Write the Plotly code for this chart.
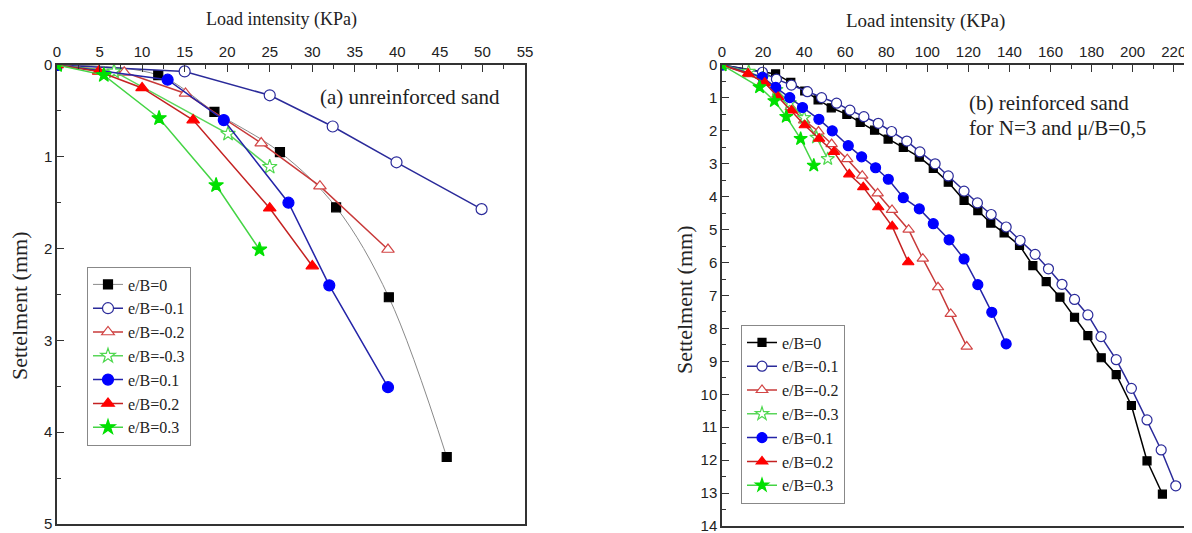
import plotly.graph_objects as go

# ---------------- data: (a) unreinforced sand ----------------
a_x_e0 = [0, 11.9, 18.5, 26.2, 32.8, 39.0, 45.8]
a_y_e0 = [0, 0.11, 0.51, 0.95, 1.55, 2.53, 4.27]
a_x_m01 = [0, 15.0, 25.0, 32.4, 39.9, 49.9]
a_y_m01 = [0, 0.07, 0.33, 0.67, 1.06, 1.57]
a_x_m02 = [0, 7.9, 15.1, 24.0, 30.9, 38.9]
a_y_m02 = [0, 0.08, 0.31, 0.85, 1.32, 2.01]
a_x_m03 = [0, 6.7, 20.1, 25.0]
a_y_m03 = [0, 0.07, 0.75, 1.11]
a_x_p01 = [0, 13.0, 19.6, 27.2, 32.0, 38.9]
a_y_p01 = [0, 0.16, 0.60, 1.50, 2.40, 3.51]
a_x_p02 = [0, 4.9, 10.0, 16.0, 25.0, 30.0]
a_y_p02 = [0, 0.07, 0.25, 0.60, 1.56, 2.19]
a_x_p03 = [0, 5.5, 12.0, 18.7, 23.8]
a_y_p03 = [0, 0.11, 0.58, 1.31, 2.01]

# ---------------- data: (b) reinforced sand ----------------
b_x_e0 = [0, 26.1, 33.5, 40.3, 46.8, 53.2, 60.8, 67.3, 74.3, 80.9, 88.3, 96.1, 102.9, 110.2,
          117.9, 124.6, 130.9, 137.4, 144.9, 151.4, 157.9, 164.6, 171.7, 178.2, 184.7, 192.0,
          199.4, 207.0, 214.5]
b_y_e0 = [0, 0.27, 0.53, 0.79, 1.06, 1.30, 1.50, 1.74, 1.98, 2.25, 2.50, 2.80, 3.14, 3.56,
          4.11, 4.42, 4.80, 5.10, 5.48, 6.09, 6.58, 7.05, 7.66, 8.22, 8.89, 9.40,
          10.34, 12.02, 13.03]
b_x_m01 = [0, 19.7, 26.5, 33.8, 41.6, 48.5, 55.8, 62.3, 69.1, 76.1, 82.6, 90.0, 96.4, 103.8,
           110.2, 117.9, 124.4, 131.1, 138.4, 145.2, 152.5, 159.0, 165.6, 171.7, 178.2, 184.6,
           192.0, 199.4, 207.0, 213.9, 221.0]
b_y_m01 = [0, 0.22, 0.43, 0.61, 0.81, 0.99, 1.16, 1.37, 1.57, 1.77, 2.02, 2.31, 2.64, 3.00,
           3.37, 3.83, 4.19, 4.54, 4.92, 5.33, 5.75, 6.19, 6.66, 7.12, 7.59, 8.25,
           8.95, 9.82, 10.78, 11.69, 12.78]
b_x_m02 = [0, 13.0, 20.0, 27.0, 33.5, 40.0, 47.0, 53.4, 61.0, 68.3, 75.8, 82.8, 90.9, 97.8,
           105.2, 111.4, 119.2]
b_y_m02 = [0, 0.28, 0.50, 0.90, 1.28, 1.68, 2.02, 2.40, 2.86, 3.36, 3.90, 4.40, 5.00, 5.88,
           6.75, 7.56, 8.55]
b_x_m03 = [0, 13.0, 19.7, 26.5, 33.0, 40.0, 46.0, 51.5]
b_y_m03 = [0, 0.20, 0.40, 0.75, 1.15, 1.60, 2.20, 2.85]
b_x_p01 = [0, 19.7, 26.2, 33.0, 39.2, 47.2, 53.7, 61.5, 68.0, 74.8, 81.0, 88.3, 96.1, 102.9,
           110.6, 117.9, 124.6, 131.4, 138.4]
b_y_p01 = [0, 0.37, 0.68, 0.99, 1.29, 1.65, 2.00, 2.45, 2.79, 3.12, 3.47, 4.03, 4.37, 4.82,
           5.31, 5.89, 6.67, 7.51, 8.47]
b_x_p02 = [0, 12.7, 20.8, 27.3, 33.9, 40.3, 47.3, 54.5, 62.0, 68.8, 76.1, 82.9, 90.7]
b_y_p02 = [0, 0.26, 0.54, 0.97, 1.38, 1.83, 2.24, 2.64, 3.32, 3.71, 4.32, 4.90, 5.99]
b_x_p03 = [0, 18.3, 25.5, 31.3, 38.3, 44.7]
b_y_p03 = [0, 0.67, 1.09, 1.57, 2.24, 3.05]

names = ["e/B=0", "e/B=-0.1", "e/B=-0.2", "e/B=-0.3", "e/B=0.1", "e/B=0.2", "e/B=0.3"]

SERIF = "Liberation Serif, Times New Roman, serif"
SANS = "Liberation Sans, Arial, sans-serif"

# style per series: (line color, line width, symbol, marker fill, marker outline)
styles = [
    ("#000000", 1.5, "square", "#000000", "#000000"),
    ("#2a2a9a", 1.5, "circle", "#ffffff", "#2a2a9a"),
    ("#c83a3a", 1.5, "triangle-up", "#ffffff", "#d24545"),
    ("#5ad65a", 1.5, "star", "#ffffff", "#4fd84f"),
    ("#2424a8", 1.5, "circle", "#0000ff", "#0000ff"),
    ("#c42222", 1.5, "triangle-up", "#ff0000", "#ff0000"),
    ("#44d444", 1.5, "star", "#00e000", "#00e000"),
]

a_data = [(a_x_e0, a_y_e0), (a_x_m01, a_y_m01), (a_x_m02, a_y_m02), (a_x_m03, a_y_m03),
          (a_x_p01, a_y_p01), (a_x_p02, a_y_p02), (a_x_p03, a_y_p03)]
b_data = [(b_x_e0, b_y_e0), (b_x_m01, b_y_m01), (b_x_m02, b_y_m02), (b_x_m03, b_y_m03),
          (b_x_p01, b_y_p01), (b_x_p02, b_y_p02), (b_x_p03, b_y_p03)]

fig = go.Figure()

for i, (xs, ys) in enumerate(a_data):
    lc, lw, sym, fill, outl = styles[i]
    line = dict(color=lc, width=lw)
    if i == 0:
        line = dict(color="#8a8a8a", width=1, shape="spline")
    fig.add_trace(go.Scatter(
        x=xs, y=ys, mode="lines+markers", name=names[i], legend="legend",
        line=line,
        marker=dict(symbol=sym, size=11 if sym != "square" else 9, color=fill,
                    line=dict(color=outl, width=1.2)),
        xaxis="x", yaxis="y"))

for i, (xs, ys) in enumerate(b_data):
    lc, lw, sym, fill, outl = styles[i]
    fig.add_trace(go.Scatter(
        x=xs, y=ys, mode="lines+markers", name=names[i], legend="legend2",
        line=dict(color=lc, width=lw),
        marker=dict(symbol=sym, size=10 if sym != "square" else 8, color=fill,
                    line=dict(color=outl, width=1.2)),
        xaxis="x2", yaxis="y2"))

# The page body has an 8px margin, so work in reference pixels minus 8.
OFF = 8
W, H = 1192 - OFF, 533


def px(v):
    return (v - OFF) / W


def py(v):
    return 1 - (v - OFF) / H


axcol = "#333333"
txtcol = "#222"

common_x = dict(side="top", ticks="inside", ticklen=7, tickwidth=1.3, tickcolor=axcol,
                showline=True, linecolor=axcol, linewidth=1.5, mirror=True,
                showgrid=False, zeroline=False, automargin=False,
                tickfont=dict(family=SANS, size=15, color=txtcol))
common_y = dict(autorange=False, ticks="inside", ticklen=7, tickwidth=1.3, tickcolor=axcol,
                showline=True, linecolor=axcol, linewidth=1.5, mirror=True,
                showgrid=False, zeroline=False, automargin=False,
                tickfont=dict(family=SANS, size=15, color=txtcol))

leg_common = dict(xanchor="left", yanchor="middle", bgcolor="white", bordercolor="#888",
                  borderwidth=1, font=dict(family=SERIF, size=16, color=txtcol),
                  tracegroupgap=0, itemsizing="trace")


def note(text, x, y, size, xanchor="center", angle=0):
    return dict(text=text, x=px(x), y=py(y), xref="paper", yref="paper",
                xanchor=xanchor, yanchor="middle", showarrow=False, textangle=angle,
                align="left", font=dict(family=SERIF, size=size, color=txtcol))


fig.update_layout(
    width=W, height=H,
    margin=dict(l=0, r=0, t=0, b=0),
    paper_bgcolor="white", plot_bgcolor="white",
    xaxis=dict(common_x, domain=[px(57), px(525)], range=[0, 55], dtick=5,
               minor=dict(dtick=2.5, ticks="inside", ticklen=4, tickcolor=axcol), anchor="y"),
    yaxis=dict(common_y, domain=[py(524), py(65)], range=[5, 0], dtick=1,
               minor=dict(dtick=0.5, ticks="inside", ticklen=4, tickcolor=axcol), anchor="x"),
    xaxis2=dict(common_x, domain=[px(722), px(1185)], range=[0, 225.5], dtick=20,
                minor=dict(dtick=10, ticks="inside", ticklen=4, tickcolor=axcol), anchor="y2"),
    yaxis2=dict(common_y, domain=[py(526), py(65)], range=[14, 0], dtick=1,
                minor=dict(dtick=0.5, ticks="inside", ticklen=4, tickcolor=axcol), anchor="x2"),
    legend=dict(leg_common, x=px(87), y=py(356)),
    legend2=dict(leg_common, x=px(741), y=py(414)),
    annotations=[
        note("Load intensity (KPa)", 281, 20, 18),
        note("Load intensity (KPa)", 925, 21, 19),
        note("Settelment (mm)", 19, 306, 22, angle=-90),
        note("Settelment (mm)", 684, 300, 22, angle=-90),
        note("(a) unreinforced sand", 502, 97, 21, xanchor="right"),
        note("(b) reinforced sand", 967, 103, 21, xanchor="left"),
        note("for N=3 and \u03bc/B=0,5", 967, 128, 21, xanchor="left"),
    ],
)

fig.write_html("out.html")
